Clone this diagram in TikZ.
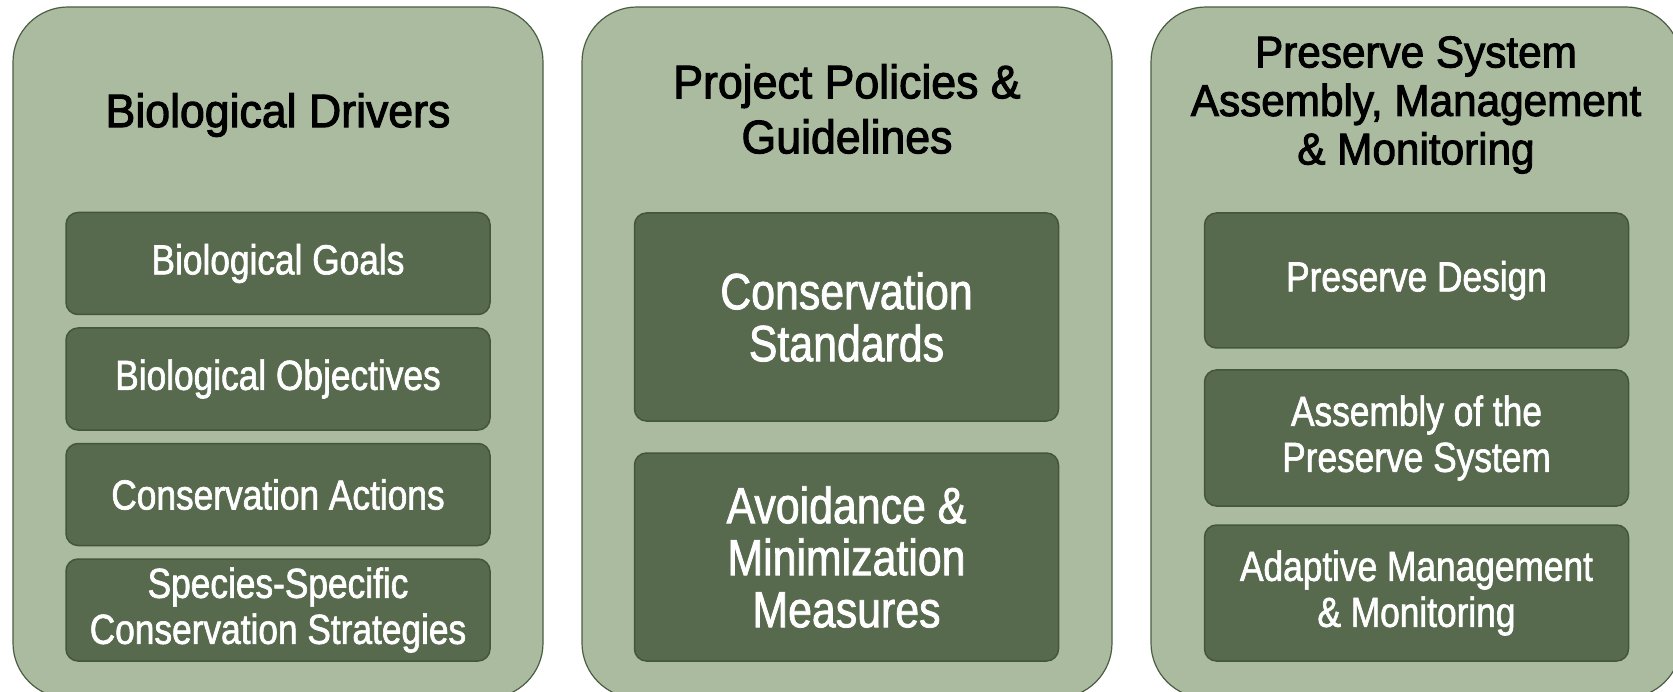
\documentclass[tikz,border=0pt]{standalone}
\usepackage{fontspec}
\setmainfont{Liberation Sans}
\newfontfamily\headfont[FakeStretch=0.95,FakeBold=2.2]{Liberation Sans}
\newfontfamily\narrowfont[FakeStretch=0.84,FakeBold=1.5]{Liberation Sans}
\definecolor{sage}{RGB}{170,187,160}
\definecolor{sageline}{RGB}{75,94,67}
\definecolor{moss}{RGB}{87,106,78}
\definecolor{mossline}{RGB}{68,86,58}

\begin{document}
\begin{tikzpicture}[x=1pt,y=-1pt,
    panel/.style={draw=sageline,fill=sage,line width=1.2pt,rounded corners=55pt,minimum width=530pt,minimum height=691pt},
    head/.style={align=center,font=\headfont\fontsize{47}{55}\selectfont},
    item/.style={draw=mossline,fill=moss,line width=1.5pt,rounded corners=12pt,minimum width=424pt,inner sep=0pt,text=white,align=center,font=\narrowfont\fontsize{42}{46}\selectfont},
    bigitem/.style={item,font=\narrowfont\fontsize{51}{52}\selectfont}]
    \useasboundingbox (0,0) rectangle (1673,692);
    \fill[white] (0,0) rectangle (1673,692);

    \node[panel] (drivers) at (278,352.5) {};
    \node[panel] (policies) at (847,352.5) {};
    \node[panel] (preserve) at (1416,352.5) {};

    \node[head] (driversT) at (278,115) {Biological Drivers};
    \node[head] (policiesT) at (847,109) {Project Policies \&\\Guidelines};
    \node[head,font=\headfont\fontsize{44.5}{48.5}\selectfont] (preserveT) at (1416,105) {Preserve System\\Assembly, Management\\\& Monitoring};

    \node[item,minimum height=102pt] (goals) at (278,263.5) {Biological Goals};
    \node[item,minimum height=102pt] (objectives) at (278,379) {Biological Objectives};
    \node[item,minimum height=102pt] (actions) at (278,494.5) {Conservation Actions};
    \node[item,minimum height=102pt] (strategies) at (278,610) {Species-Specific\\Conservation Strategies};

    \node[bigitem,minimum height=208pt] (standards) at (846.5,317) {Conservation\\Standards};
    \node[bigitem,minimum height=208pt] (avoidance) at (846.5,557) {Avoidance \&\\Minimization\\Measures};

    \node[item,minimum height=135pt] (design) at (1416.5,280.5) {Preserve Design};
    \node[item,minimum height=136pt] (assembly) at (1416.5,438) {Assembly of the\\Preserve System};
    \node[item,minimum height=136pt] (adaptive) at (1416.5,593) {Adaptive Management\\\& Monitoring};
\end{tikzpicture}
\end{document}
